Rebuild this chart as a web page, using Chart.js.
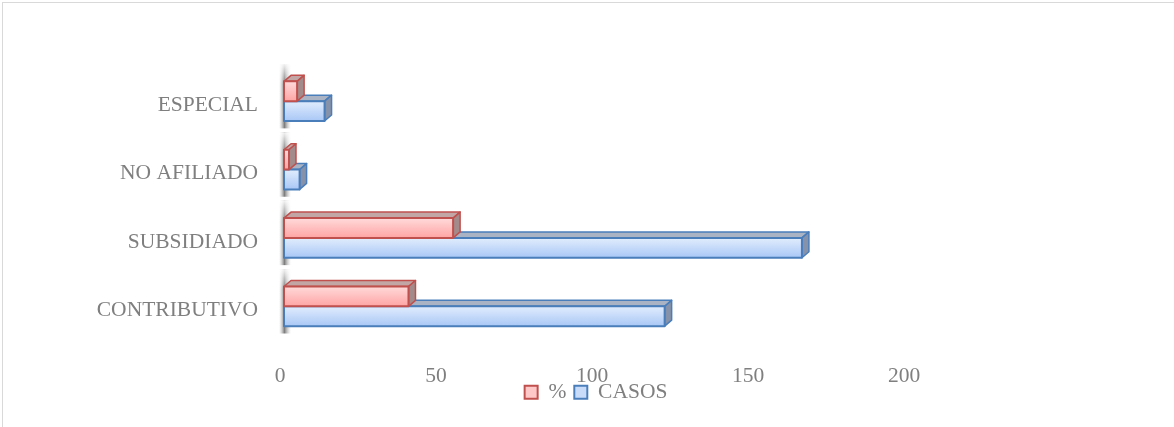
<!DOCTYPE html>
<html>
<head>
<meta charset="utf-8">
<script src="https://cdn.jsdelivr.net/npm/chart.js@4.4.1/dist/chart.umd.min.js"></script>
<style>
html, body { margin: 0; padding: 0; background: #fff; }
#wrap { position: relative; width: 1174px; height: 427px; overflow: hidden; }
#marco { position: absolute; left: 2px; top: 2px; width: 1200px; height: 500px;
         border-top: 1px solid #d9d9d9; border-left: 1px solid #d9d9d9; }
#afiliacion { position: absolute; left: 0; top: 0; }
</style>
</head>
<body>
<div id="wrap">
  <div id="marco"></div>
  <canvas id="afiliacion" width="1174" height="427"></canvas>
</div>
<script>
// categorias de arriba hacia abajo
const categorias = ['ESPECIAL', 'NO AFILIADO', 'SUBSIDIADO', 'CONTRIBUTIVO'];
const casos = [13, 5, 166, 122];
const porcentaje = [4.2, 1.6, 54.2, 39.9];
const ticksX = [0, 50, 100, 150, 200];

const TEXTO = { family: "'Liberation Serif', serif", size: 21.5 };
const GRIS = '#7f7f7f';
const DX = 7, DY = 6;

const estilos = [
    { tope: '#c2a6a6', lado: '#a48b8b', linea: '#c0504d', g0: '#ffdada', g1: '#ffa4a4' },
    { tope: '#aab3c3', lado: '#8692a9', linea: '#4a7ebb', g0: '#e2edfd', g1: '#a8c7f6' },
];

// sombra de la pared junto al eje
const pared = {
    id: 'pared',
    beforeDatasetsDraw(chart) {
        const ctx = chart.ctx;
        const y = chart.scales.y;
        const x0 = chart.scales.x.getPixelForValue(0) + 1;
        const banda = y.getPixelForTick(1) - y.getPixelForTick(0);
        ctx.save();
        categorias.forEach((c, i) => {
            const yc = y.getPixelForTick(i);
            const top = yc - banda / 2 - 3;
            const bot = yc + banda / 2 - 7;
            const g = ctx.createLinearGradient(x0 - 6, 0, x0 + 6, 0);
            g.addColorStop(0, 'rgba(190,190,190,0)');
            g.addColorStop(0.45, 'rgba(110,110,110,0.9)');
            g.addColorStop(1, 'rgba(190,190,190,0)');
            ctx.fillStyle = g;
            ctx.fillRect(x0 - 6, top, 12, bot - top);
            const f = ctx.createLinearGradient(0, top, 0, top + banda * 0.3);
            f.addColorStop(0, 'rgba(255,255,255,0.9)');
            f.addColorStop(1, 'rgba(255,255,255,0)');
            ctx.fillStyle = f;
            ctx.fillRect(x0 - 6, top, 12, banda * 0.3);
        });
        ctx.restore();
    }
};

// caras 3D de cada barra
const barras3d = {
    id: 'barras3d',
    afterDatasetDraw(chart, args) {
        const ctx = chart.ctx;
        const st = estilos[args.index];
        args.meta.data.forEach(bar => {
            const l = bar.base, r = bar.x;
            const t = bar.y - bar.height / 2, b = bar.y + bar.height / 2;
            ctx.save();
            ctx.lineJoin = 'round';
            ctx.strokeStyle = st.linea;
            ctx.lineWidth = 1.5;
            ctx.beginPath();
            ctx.moveTo(l, t); ctx.lineTo(l + DX, t - DY); ctx.lineTo(r + DX, t - DY); ctx.lineTo(r, t);
            ctx.closePath();
            ctx.fillStyle = st.tope; ctx.fill(); ctx.stroke();
            ctx.beginPath();
            ctx.moveTo(r, t); ctx.lineTo(r + DX, t - DY); ctx.lineTo(r + DX, b - DY); ctx.lineTo(r, b);
            ctx.closePath();
            ctx.fillStyle = st.lado; ctx.fill(); ctx.stroke();
            const g = ctx.createLinearGradient(0, t, 0, b);
            g.addColorStop(0, st.g0); g.addColorStop(1, st.g1);
            ctx.fillStyle = g;
            ctx.fillRect(l, t, r - l, b - t);
            ctx.lineWidth = 2;
            ctx.strokeRect(l, t, r - l, b - t);
            ctx.restore();
        });
    }
};

// la leyenda queda encima de las etiquetas del eje, como en Excel
const subirLeyenda = {
    id: 'subirLeyenda',
    afterLayout(chart) {
        chart.legend.top -= 14;
        chart.legend.bottom -= 14;
    }
};

const chart = new Chart(document.getElementById('afiliacion'), {
    type: 'bar',
    data: {
        labels: categorias,
        datasets: [
            {
                label: '%',
                data: porcentaje,
                backgroundColor: '#ffc8c8',
                borderColor: '#c0504d',
                borderWidth: 2,
            },
            {
                label: 'CASOS',
                data: casos,
                backgroundColor: '#c8dcfa',
                borderColor: '#4a7ebb',
                borderWidth: 2,
            },
        ],
    },
    options: {
        indexAxis: 'y',
        responsive: false,
        animation: false,
        categoryPercentage: 0.58,
        barPercentage: 1.0,
        layout: { padding: { left: 0, right: 266, top: 67, bottom: 0 } },
        scales: {
            x: {
                min: 0,
                max: 200,
                grid: { display: false },
                border: { display: false },
                afterBuildTicks: (s) => { s.ticks = ticksX.map(v => ({ value: v })); },
                afterFit: (s) => { s.height = 47; },
                ticks: { padding: 15, labelOffset: -4, color: GRIS, font: TEXTO },
            },
            y: {
                grid: { display: false },
                border: { display: false },
                afterFit: (s) => { s.width = 284; },
                ticks: { padding: 18, labelOffset: 4, color: GRIS, font: TEXTO },
            },
        },
        plugins: {
            legend: {
                position: 'bottom',
                fullSize: false,
                labels: { boxWidth: 13, boxHeight: 13, padding: 8, color: GRIS, font: TEXTO },
            },
            tooltip: { enabled: false },
        },
    },
    plugins: [pared, barras3d, subirLeyenda],
});
</script>
</body>
</html>
